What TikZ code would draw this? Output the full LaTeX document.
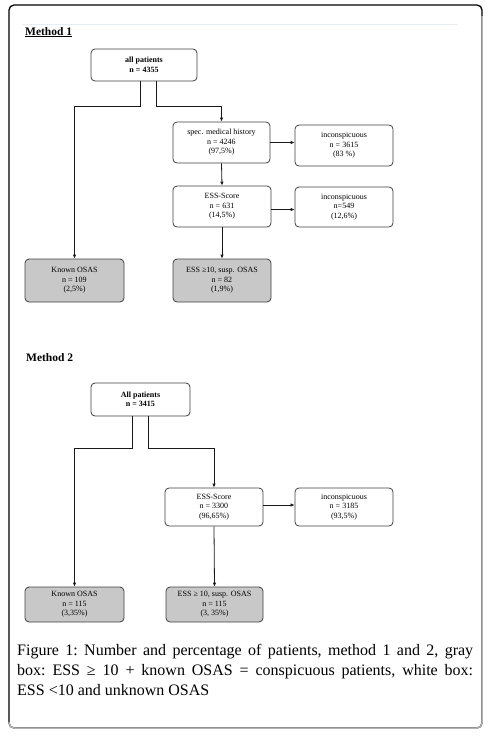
\documentclass[tikz,border=0pt]{standalone}
\usepackage{fontspec}
\setmainfont{Liberation Serif}
\usetikzlibrary{arrows.meta}
\definecolor{boxgray}{RGB}{200,200,200}
\definecolor{faintline}{RGB}{228,238,244}
\begin{document}
\begin{tikzpicture}[x=1pt,y=-1pt,
  box/.style={draw=black!75, line width=0.8pt, rounded corners=4pt, fill=white,
    align=center, font=\fontsize{8}{9.5}\selectfont, inner sep=0pt},
  graybox/.style={box, fill=boxgray},
  conn/.style={draw=black!90, line width=0.8pt, -{Latex[length=4pt,width=3.5pt]}},
  heading/.style={anchor=base west, inner sep=0pt, font=\fontsize{11.5}{13}\selectfont\bfseries},
]
\useasboundingbox (0,0) rectangle (499,740);
% outer frame
\draw[black, line width=1.3pt, rounded corners=5pt] (9,5) rectangle (482,728);
\draw[gray!60, line width=1.5pt, rounded corners=5pt] (482,16) -- (482,728) -- (9,728) -- (9,722);
\draw[faintline, line width=0.8pt] (22,24) -- (458,24);

% Method 1
\node[heading] (m1) at (25,35) {\underline{Method 1}};
\node[box, minimum width=106pt, minimum height=32pt, font=\fontsize{8}{10}\selectfont\bfseries] (a1) at (144,65) {all patients\\n = 4355};
\node[box, minimum width=97pt, minimum height=41pt] (s1) at (221.5,142.5) {spec. medical history\\n = 4246\\(97,5\%)};
\node[box, minimum width=98pt, minimum height=41pt] (i1) at (344,145.5) {inconspicuous\\n = 3615\\(83 \%)};
\node[box, minimum width=98pt, minimum height=41pt] (e1) at (222,206.5) {ESS-Score\\n = 631\\(14,5\%)};
\node[box, minimum width=98pt, minimum height=40pt] (i2) at (344,207) {inconspicuous\\n=549\\(12,6\%)};
\node[graybox, minimum width=99pt, minimum height=43pt] (k1) at (74.5,280.5) {Known OSAS\\n = 109\\(2,5\%)};
\node[graybox, minimum width=98pt, minimum height=43pt] (g1) at (222,280.5) {ESS ≥10, susp. OSAS\\n = 82\\(1,9\%)};

\draw[conn] ([xshift=-4pt]a1.south) -- ++(0,25) -| (k1.north);
\draw[conn] ([xshift=12pt]a1.south) -- ++(0,25) -| (s1.north);
\draw[conn] (s1.east) -- (s1.east -| i1.west);
\draw[conn] (s1.south) -- (e1.north);
\draw[conn] ([yshift=-3pt]e1.east) -- ([yshift=-3pt]e1.east -| i2.west);
\draw[conn] (e1.south) -- (g1.north);

% Method 2
\node[heading] (m2) at (26,361) {Method 2};
\node[box, minimum width=99pt, minimum height=33pt, font=\fontsize{8}{9.5}\selectfont\bfseries] (a2) at (140.5,399.5) {All patients\\n = 3415};
\node[box, minimum width=98pt, minimum height=38pt] (e2) at (214,507) {ESS-Score\\n = 3300\\(96,65\%)};
\node[box, minimum width=98pt, minimum height=38pt] (i3) at (344,507) {inconspicuous\\n = 3185\\(93,5\%)};
\node[graybox, minimum width=99pt, minimum height=35pt] (k2) at (74.5,604.5) {Known OSAS\\n = 115\\(3,35\%)};
\node[graybox, minimum width=97pt, minimum height=35pt] (g2) at (214.5,604.5) {ESS ≥ 10, susp. OSAS\\n = 115\\(3, 35\%)};

\draw[conn] ([xshift=-8.5pt]a2.south) -- ++(0,32) -| (k2.north);
\draw[conn] ([xshift=7.5pt]a2.south) -- ++(0,32) -| (e2.north);
\draw[conn] ([yshift=2pt]e2.east) -- ([yshift=2pt]e2.east -| i3.west);
\draw[conn] (e2.south) -- (g2.north);

% caption
\node[anchor=base west, inner sep=0pt] (cap) at (17,655) {\parbox[t]{456pt}{\fontsize{16}{20}\selectfont\frenchspacing
Figure 1: Number and percentage of patients, method 1 and 2, gray\linebreak
box: ESS ≥ 10 + known OSAS = conspicuous patients, white box:\linebreak
ESS {<}10 and unknown OSAS}};
\end{tikzpicture}
\end{document}
